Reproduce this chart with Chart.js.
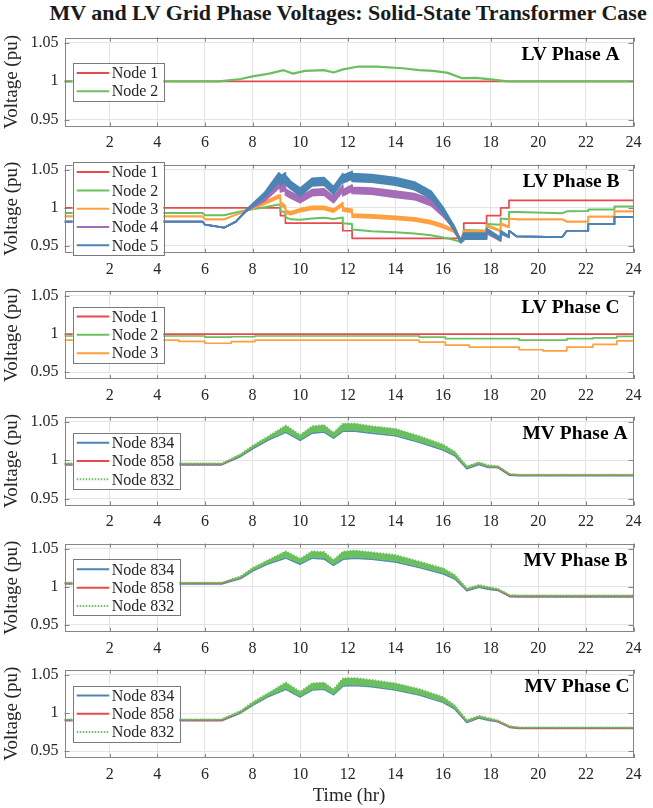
<!DOCTYPE html>
<html>
<head>
<meta charset="utf-8">
<title>MV and LV Grid Phase Voltages</title>
<script src="https://cdn.jsdelivr.net/npm/chart.js@4.4.1/dist/chart.umd.min.js"></script>
<style>
  html, body { margin:0; padding:0; background:#fff; }
  body { width:653px; height:808px; position:relative; overflow:hidden; }
  #title { position:absolute; left:46px; top:1px; text-align:left;
           font:bold 22px "Liberation Serif","Times New Roman",serif; color:#1a1a1a;
           line-height:24px; white-space:nowrap; }
  canvas { position:absolute; left:0; }
</style>
</head>
<body>
<div id="title">MV and LV Grid Phase Voltages: Solid-State Transformer Case</div>
<script>
// ---------------- axis ticks ----------------
const xTicks = [2, 4, 6, 8, 10, 12, 14, 16, 18, 20, 22, 24];
const yTicks = [0.95, 1, 1.05];
const yTickLabels = ['0.95', '1', '1.05'];

// ---------------- LV Phase A ----------------
const tA = [0.1, 6.6, 7.5, 8.0, 8.7, 9.3, 9.7, 10.2, 11.0, 11.4, 11.8, 12.4, 13.2, 14.3, 15.0, 15.6, 16.2, 16.8, 17.4, 18.0, 18.7, 24];
const lvA_node1 = [1, 1, 1, 1, 1, 1, 1, 1, 1, 1, 1, 1, 1, 1, 1, 1, 1, 1, 1, 1, 1, 1];
const lvA_node2 = [1.0, 1.0, 1.003, 1.0065, 1.010, 1.0145, 1.010, 1.0135, 1.0145, 1.0115, 1.0155, 1.019, 1.019, 1.017, 1.0145, 1.0135, 1.011, 1.004, 1.0045, 1.0025, 1.0, 1.0];

// ---------------- LV Phase B ----------------
const tB = [0.1, 5.9, 6.0, 6.8, 7.3, 7.75, 8.5, 9.1, 9.17, 9.17, 9.38, 9.38, 9.6, 10.0, 10.5, 11.0, 11.4, 11.79, 11.79, 12.18, 12.18, 13.0, 14.0, 14.8, 15.5, 16.0, 16.45, 16.75, 16.87, 16.87, 17.83, 17.83, 18.42, 18.42, 18.77, 18.77, 19.1, 21.0, 21.2, 22.1, 22.1, 23.2, 23.2, 24];
const lvB_node1 = [1,1,1,1,1,1,1,1,1, 0.99,0.99, 0.98,0.98,0.98,0.98,0.98,0.98,0.98, 0.97,0.97, 0.96,0.96,0.96,0.96,0.96,0.96,0.96,0.96,0.96, 0.98,0.98, 0.99,0.99, 1,1, 1.01,1.01,1.01,1.01,1.01,1.01,1.01,1.01,1.01];
const lvB_node2 = [0.9935,0.9935,0.9905,0.9905,0.994,0.997,1.001,1.0045,1.004,0.996,0.994,0.988,0.985,0.9845,0.986,0.987,0.9855,0.9875,0.980,0.979,0.9715,0.9695,0.968,0.9665,0.964,0.961,0.958,0.955,0.957,0.971,0.970,0.979,0.978,0.986,0.985,0.9945,0.9945,0.993,0.9955,0.996,0.998,0.998,1.002,1.002];
const lvB_node3_hi = [0.989,0.989,0.985,0.985,0.991,0.997,1.008,1.017,1.017,1.008,1.003,0.997,0.995,0.999,1.002,1.002,0.9985,1.007,1.000,0.998,0.992,0.991,0.989,0.987,0.983,0.978,0.9715,0.9595,0.970,0.970,0.9705,0.9775,0.971,0.980,0.9755,0.986,0.985,0.985,0.982,0.982,0.9885,0.9885,0.9955,0.9955];
const lvB_node3_lo = [0.989,0.989,0.985,0.985,0.991,0.996,1.005,1.013,1.013,1.004,0.999,0.993,0.991,0.995,0.998,0.998,0.9945,1.003,0.996,0.994,0.988,0.987,0.985,0.983,0.979,0.974,0.9685,0.9575,0.964,0.964,0.9645,0.9755,0.969,0.978,0.9745,0.986,0.985,0.985,0.982,0.982,0.9885,0.9885,0.9955,0.9955];
const lvB_node4_hi = [0.982,0.982,0.978,0.974,0.982,0.998,1.015,1.034,1.033,1.029,1.031,1.025,1.021,1.015,1.024,1.025,1.015,1.030,1.024,1.030,1.027,1.026,1.022,1.019,1.011,0.995,0.977,0.957,0.966,0.966,0.966,0.9705,0.9605,0.968,0.962,0.970,0.9625,0.9615,0.970,0.970,0.979,0.979,0.988,0.988];
const lvB_node4_lo = [0.982,0.982,0.978,0.974,0.982,0.996,1.009,1.026,1.025,1.021,1.023,1.017,1.013,1.007,1.016,1.017,1.007,1.022,1.016,1.022,1.019,1.018,1.014,1.011,1.003,0.989,0.973,0.955,0.960,0.960,0.960,0.9665,0.9565,0.968,0.962,0.970,0.9625,0.9615,0.970,0.970,0.979,0.979,0.988,0.988];
const lvB_node5_hi = [0.982,0.982,0.978,0.974,0.982,0.998,1.020,1.046,1.044,1.042,1.046,1.043,1.035,1.026,1.039,1.040,1.028,1.045,1.043,1.048,1.045,1.044,1.040,1.034,1.022,1.001,0.977,0.956,0.967,0.967,0.967,0.973,0.961,0.970,0.963,0.970,0.9625,0.9615,0.970,0.970,0.979,0.979,0.988,0.988];
const lvB_node5_lo = [0.982,0.982,0.978,0.974,0.982,0.996,1.014,1.034,1.032,1.030,1.034,1.031,1.025,1.016,1.029,1.030,1.018,1.035,1.033,1.038,1.035,1.034,1.030,1.024,1.012,0.993,0.971,0.954,0.959,0.959,0.959,0.969,0.957,0.966,0.961,0.970,0.9625,0.9615,0.970,0.970,0.979,0.979,0.988,0.988];

// ---------------- LV Phase C (step values) ----------------
const tC = [0.1, 4.9, 6.0, 7.1, 8.1, 15.0, 16.1, 17.1, 19.2, 20.2, 21.2, 22.3, 23.3, 24];
const lvC_node1 = [1, 1, 1, 1, 1, 1, 1, 1, 1, 1, 1, 1, 1, 1];
const lvC_node2 = [0.9975, 0.9975, 0.996, 0.9965, 0.9975, 0.996, 0.994, 0.994, 0.992, 0.992, 0.994, 0.995, 0.997, 0.997];
const lvC_node3 = [0.992, 0.9905, 0.988, 0.990, 0.992, 0.9895, 0.9855, 0.983, 0.9795, 0.978, 0.983, 0.9865, 0.991, 0.991];

// ---------------- MV phases ----------------
const tM = [0.1, 6.7, 7.5, 8.0, 8.7, 9.4, 10.0, 10.5, 11.0, 11.4, 11.8, 12.3, 13.0, 14.0, 15.0, 16.0, 16.5, 17.0, 17.5, 17.9, 18.3, 18.8, 19.2, 24];
const mvA_834 = [0.994,0.994,1.005,1.015,1.027,1.0365,1.026,1.0355,1.037,1.029,1.038,1.038,1.0355,1.032,1.0235,1.0135,1.006,0.989,0.9945,0.9905,0.9905,0.9805,0.9797,0.9797];
const mvA_858 = [0.9948,0.9948,1.0065,1.017,1.0295,1.041,1.0295,1.040,1.0415,1.0325,1.043,1.043,1.040,1.0365,1.0275,1.017,1.0085,0.9905,0.996,0.992,0.9915,0.9814,0.9804,0.9804];
const mvA_832_hi = [0.9958,0.9958,1.008,1.019,1.032,1.0455,1.033,1.0445,1.046,1.036,1.048,1.048,1.0445,1.041,1.0315,1.0205,1.011,0.992,0.9975,0.9935,0.9925,0.9823,0.9813,0.9813];
const mvA_832_lo = [0.9952,0.9952,1.006,1.016,1.028,1.0375,1.027,1.0365,1.038,1.030,1.039,1.039,1.0365,1.033,1.0245,1.0145,1.007,0.990,0.9955,0.9915,0.9915,0.9817,0.9807,0.9807];

const mvB_834 = [1.004,1.004,1.011,1.021,1.031,1.038,1.030,1.038,1.037,1.0285,1.0365,1.038,1.0365,1.033,1.0255,1.0175,1.0105,0.995,0.9995,0.997,0.9955,0.9873,0.9868,0.9868];
const mvB_858 = [1.0048,1.0048,1.0123,1.0228,1.0333,1.0423,1.0333,1.0423,1.0413,1.0318,1.0413,1.0428,1.0408,1.0373,1.0293,1.0208,1.0128,0.9963,1.0008,0.9983,0.9963,0.9883,0.9878,0.9878];
const mvB_832_hi = [1.0058,1.0058,1.014,1.025,1.036,1.047,1.037,1.047,1.046,1.0355,1.0465,1.048,1.0455,1.042,1.0335,1.0245,1.0155,0.998,1.0025,1.000,0.9975,0.9893,0.9888,0.9888];
const mvB_832_lo = [1.0052,1.0052,1.012,1.022,1.032,1.039,1.031,1.039,1.038,1.0295,1.0375,1.039,1.0375,1.034,1.0265,1.0185,1.0115,0.996,1.0005,0.998,0.9965,0.9887,0.9882,0.9882];

const mvC_834 = [0.990,0.990,1.0002,1.0102,1.0222,1.0312,1.0212,1.0302,1.0312,1.0242,1.0357,1.0362,1.0347,1.0302,1.0237,1.0142,1.0052,0.9877,0.9937,0.9907,0.9887,0.9813,0.9798,0.9798];
const mvC_858 = [0.9908,0.9908,1.0013,1.0118,1.0243,1.0353,1.0243,1.0343,1.0353,1.0273,1.0403,1.0408,1.0388,1.0343,1.0273,1.0173,1.0073,0.9888,0.9948,0.9918,0.9893,0.9818,0.9803,0.9803];
const mvC_832_hi = [0.9918,0.9918,1.003,1.014,1.027,1.040,1.028,1.039,1.040,1.031,1.0455,1.046,1.0435,1.039,1.0315,1.021,1.010,0.9905,0.9965,0.9935,0.9905,0.9828,0.9813,0.9813];
const mvC_832_lo = [0.9912,0.9912,1.001,1.011,1.023,1.032,1.022,1.031,1.032,1.025,1.0365,1.037,1.0355,1.031,1.0245,1.015,1.006,0.9885,0.9945,0.9915,0.9895,0.9822,0.9807,0.9807];

// ---------------- styling / layout ----------------
const FONT = '"Liberation Serif", "Times New Roman", serif';
const COL = { red:'#E8494D', green:'#6ABF5E', orange:'#FFA040', purple:'#A56CB8', blue:'#4A85B3' };
const DOT = [1.5, 1.5];
Chart.defaults.font.family = FONT;

// fit the title to the width it spans in the figure (centred over the axes)
(function fitTitle() {
  const el = document.getElementById('title');
  const m = document.createElement('canvas').getContext('2d');
  m.font = 'bold 22px ' + FONT;
  const w = m.measureText(el.textContent).width;
  const target = 604;
  const fs = Math.min(22, 22 * target / w);
  el.style.fontSize = fs.toFixed(2) + 'px';
  m.font = 'bold ' + fs.toFixed(2) + 'px ' + FONT;
  const w2 = m.measureText(el.textContent).width;
  el.style.left = (349 - w2 / 2).toFixed(1) + 'px';
})();

const panels = [
  { label:'LV Phase A', labelRight:14, series:[
      { label:'Node 1', t:tA, y:lvA_node1, color:COL.red },
      { label:'Node 2', t:tA, y:lvA_node2, color:COL.green, width:2.2 } ] },
  { label:'LV Phase B', labelRight:14, series:[
      { label:'Node 1', t:tB, y:lvB_node1, color:COL.red },
      { label:'Node 2', t:tB, y:lvB_node2, color:COL.green, width:2 },
      { label:'Node 3', t:tB, hi:lvB_node3_hi, lo:lvB_node3_lo, color:COL.orange },
      { label:'Node 4', t:tB, hi:lvB_node4_hi, lo:lvB_node4_lo, color:COL.purple },
      { label:'Node 5', t:tB, hi:lvB_node5_hi, lo:lvB_node5_lo, color:COL.blue } ] },
  { label:'LV Phase C', labelRight:14, stepped:true, series:[
      { label:'Node 1', t:tC, y:lvC_node1, color:COL.red },
      { label:'Node 2', t:tC, y:lvC_node2, color:COL.green },
      { label:'Node 3', t:tC, y:lvC_node3, color:COL.orange } ] },
  { label:'MV Phase A', labelRight:6, series:[
      { label:'Node 834', t:tM, y:mvA_834, color:COL.blue },
      { label:'Node 858', t:tM, y:mvA_858, color:COL.red },
      { label:'Node 832', t:tM, hi:mvA_832_hi, lo:mvA_832_lo, color:COL.green, dash:DOT } ] },
  { label:'MV Phase B', labelRight:6, series:[
      { label:'Node 834', t:tM, y:mvB_834, color:COL.blue },
      { label:'Node 858', t:tM, y:mvB_858, color:COL.red },
      { label:'Node 832', t:tM, hi:mvB_832_hi, lo:mvB_832_lo, color:COL.green, dash:DOT } ] },
  { label:'MV Phase C', labelRight:4, series:[
      { label:'Node 834', t:tM, y:mvC_834, color:COL.blue },
      { label:'Node 858', t:tM, y:mvC_858, color:COL.red },
      { label:'Node 832', t:tM, hi:mvC_832_hi, lo:mvC_832_lo, color:COL.green, dash:DOT } ] }
];

const panelTops = [32.8, 159.1, 285.4, 411.7, 538.0, 664.3];
const plotH = 93.7;

function pts(t, v) { return t.map((x, i) => ({ x: x, y: v[i] })); }

function buildDatasets(series, stepped) {
  const out = [];
  const n = series.length;
  series.forEach((s, i) => {
    const base = {
      borderColor: s.color, backgroundColor: s.color, borderWidth: s.width || 1.7,
      pointRadius: 0, pointHoverRadius: 0, tension: 0, stepped: !!stepped,
      order: n - i, borderDash: s.dash || [], borderJoinStyle: 'round'
    };
    if (s.hi) {
      out.push(Object.assign({}, base, { label: s.label, data: pts(s.t, s.hi), fill: false }));
      out.push(Object.assign({}, base, { label: s.label + ' band', data: pts(s.t, s.lo), fill: '-1' }));
    } else {
      out.push(Object.assign({}, base, { label: s.label, data: pts(s.t, s.y), fill: false }));
    }
  });
  return out;
}

const decor = {
  id: 'decor',
  afterDraw(chart, args, o) {
    const { ctx, chartArea: a, scales: { x, y } } = chart;
    ctx.save();
    // axes box and inward tick marks
    ctx.strokeStyle = '#858585';
    ctx.lineWidth = 1;
    ctx.beginPath();
    xTicks.forEach(v => {
      const px = Math.round(x.getPixelForValue(v)) + 0.5;
      ctx.moveTo(px, a.top); ctx.lineTo(px, a.top + 4);
      ctx.moveTo(px, a.bottom); ctx.lineTo(px, a.bottom - 4);
    });
    yTicks.forEach(v => {
      const py = Math.round(y.getPixelForValue(v)) + 0.5;
      ctx.moveTo(a.left, py); ctx.lineTo(a.left + 5, py);
      ctx.moveTo(a.right, py); ctx.lineTo(a.right - 5, py);
    });
    ctx.stroke();
    ctx.strokeRect(Math.round(a.left) + 0.5, Math.round(a.top) + 0.5,
                   Math.round(a.right - a.left) - 1, Math.round(a.bottom - a.top) - 1);
    // panel label
    ctx.font = 'bold 19.5px ' + FONT;
    ctx.fillStyle = '#000';
    ctx.textAlign = 'right';
    ctx.textBaseline = 'middle';
    ctx.fillText(o.label, a.right - o.labelRight, a.top + 17);
    // legend
    const items = o.items;
    ctx.font = '16px ' + FONT;
    const tw = Math.max.apply(null, items.map(it => ctx.measureText(it.label).width));
    const rowH = 18.3;
    const bw = 39 + tw + 5;
    const bh = items.length * rowH + 1.5;
    const bx = a.left + 8.2;
    const by = a.top + (a.bottom - a.top - bh) / 2;
    ctx.fillStyle = '#fff';
    ctx.fillRect(bx, by, bw, bh);
    ctx.strokeStyle = '#7a7a7a';
    ctx.strokeRect(Math.round(bx) + 0.5, Math.round(by) + 0.5, Math.round(bw), Math.round(bh));
    items.forEach((it, i) => {
      const cy = by + 0.75 + rowH * (i + 0.5);
      ctx.strokeStyle = it.color;
      ctx.lineWidth = 2;
      ctx.setLineDash(it.dash || []);
      ctx.beginPath();
      ctx.moveTo(bx + 4, cy); ctx.lineTo(bx + 36.5, cy);
      ctx.stroke();
      ctx.setLineDash([]);
      ctx.fillStyle = '#262626';
      ctx.textAlign = 'left';
      ctx.textBaseline = 'middle';
      ctx.fillText(it.label, bx + 39, cy + 1);
    });
    ctx.restore();
  }
};

panels.forEach((p, k) => {
  const last = (k === panels.length - 1);
  const top = panelTops[k];
  const cTop = Math.floor(top) - 10;
  const padTop = top - cTop;
  const xH0 = last ? (808 - (top + plotH)) : 30;
  const H = Math.round(padTop + plotH + xH0);
  const xH = H - padTop - plotH;

  const cv = document.createElement('canvas');
  cv.width = 653; cv.height = H;
  cv.style.top = cTop + 'px';
  cv.style.width = '653px'; cv.style.height = H + 'px';
  document.body.appendChild(cv);

  const gridOpts = { color: '#E4E4E4', lineWidth: 1, drawTicks: false };
  new Chart(cv, {
    type: 'line',
    data: { datasets: buildDatasets(p.series, p.stepped) },
    options: {
      responsive: false, animation: false, devicePixelRatio: 1, events: [],
      layout: { padding: { top: padTop, right: 19.5, bottom: 0, left: 0 } },
      plugins: {
        legend: { display: false }, tooltip: { enabled: false },
        decor: { label: p.label, labelRight: p.labelRight,
                 items: p.series.map(s => ({ label: s.label, color: s.color, dash: s.dash })) }
      },
      scales: {
        x: {
          type: 'linear', min: 0.1, max: 24,
          afterBuildTicks: s => { s.ticks = xTicks.map(v => ({ value: v })); },
          afterFit: s => { s.height = xH; },
          grid: gridOpts, border: { display: false },
          ticks: { autoSkip: false, maxRotation: 0, padding: 7, color: '#262626',
                   font: { family: FONT, size: 16 }, callback: v => String(v) },
          title: last ? { display: true, text: 'Time (hr)', color: '#262626',
                          font: { family: FONT, size: 19 }, padding: { top: 0, bottom: 0.6 } }
                      : { display: false }
        },
        y: {
          type: 'linear', min: 0.941, max: 1.057,
          afterBuildTicks: s => { s.ticks = yTicks.map(v => ({ value: v })); },
          afterFit: s => { s.width = 64.5; },
          grid: gridOpts, border: { display: false },
          ticks: { padding: 6, color: '#262626', font: { family: FONT, size: 16 },
                   callback: v => yTickLabels[yTicks.indexOf(v)] },
          title: { display: true, text: 'Voltage (pu)', color: '#262626',
                   font: { family: FONT, size: 19 }, padding: { top: 1, bottom: 0 } }
        }
      }
    },
    plugins: [decor]
  });
});
</script>
</body>
</html>
